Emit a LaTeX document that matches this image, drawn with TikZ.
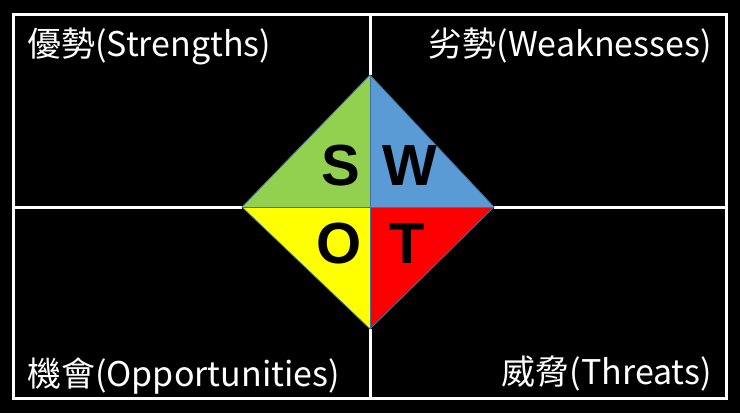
\documentclass[tikz,border=0pt]{standalone}
\usepackage{fontspec}
\newfontfamily\cjk{Noto Sans CJK TC}
\newfontfamily\swotfont{Liberation Sans}
\usetikzlibrary{positioning}
\definecolor{swotgreen}{HTML}{92D050}
\definecolor{swotblue}{HTML}{5B9BD5}
\definecolor{swotyellow}{HTML}{FFFF00}
\definecolor{swotred}{HTML}{FF0000}
\definecolor{swotedge}{HTML}{41719C}

\begin{document}
\begin{tikzpicture}[x=1pt,y=-1pt,
    quadlabel/.style={text=white,inner sep=0pt,font=\cjk\fontsize{34}{34}\selectfont},
    letter/.style={text=black,inner sep=0pt,font=\swotfont\bfseries\fontsize{58}{58}\selectfont}]
  % background
  \fill[black] (0,0) rectangle (740,413);

  % diamond corners
  \coordinate (c) at (370,207);
  \coordinate (top) at (370,75);
  \coordinate (bottom) at (370,329);
  \coordinate (left) at (242,207);
  \coordinate (right) at (494,207);

  % white frame and cross
  \coordinate (fl) at (13,207);
  \coordinate (fr) at (726,207);
  \coordinate (ft) at (370,14);
  \coordinate (fb) at (370,398);
  \draw[white,line width=3pt] (13,14) rectangle (726,398);
  \draw[white,line width=3pt] (fl) -- (left) (right) -- (fr);
  \draw[white,line width=3pt] (ft) -- (top) (bottom) -- (fb);

  % four coloured quarters
  \fill[swotgreen]  (c) -- (left) -- (top) -- cycle;
  \fill[swotblue]   (c) -- (top) -- (right) -- cycle;
  \fill[swotyellow] (c) -- (left) -- (bottom) -- cycle;
  \fill[swotred]    (c) -- (bottom) -- (right) -- cycle;
  \draw[swotedge,line width=0.8pt] (top) -- (right) -- (bottom) -- (left) -- cycle;
  \draw[swotedge,line width=0.8pt] (top) -- (bottom) (left) -- (right);

  % letters
  \node[letter] (s) at (341,166) {S};
  \node[letter] (w) at (410,166) {W};
  \node[letter] (o) at (339,244) {O};
  \node[letter] (t) at (407,244) {T};

  % corner labels
  \node[quadlabel,anchor=base west] (strengths) at (27,56) {優勢(Strengths)};
  \node[quadlabel,anchor=base east] (weaknesses) at (712,56) {劣勢(Weaknesses)};
  \node[quadlabel,anchor=base west] (opportunities) at (27,386) {機會(Opportunities)};
  \node[quadlabel,anchor=base east] (threats) at (712,384) {威脅(Threats)};
\end{tikzpicture}
\end{document}
